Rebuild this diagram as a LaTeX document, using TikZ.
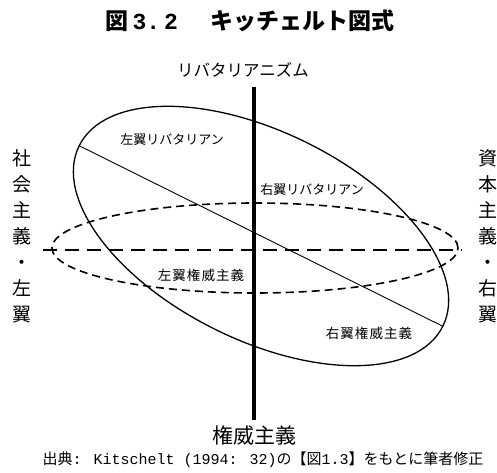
\documentclass[tikz,border=0pt]{standalone}
\usepackage{fontspec}
\setmainfont{Liberation Serif}
\newfontfamily\jp{Noto Sans CJK JP}
\newfontfamily\jpsp[LetterSpace=8]{Noto Sans CJK JP}
\newfontfamily\mono{Liberation Mono}
\usetikzlibrary{calc}
\tikzset{
  axisv/.style={line width=3.6pt},
  axish/.style={line width=2.6pt, dash pattern=on 14pt off 8pt},
  dashell/.style={line width=1.6pt, dash pattern=on 8pt off 5pt},
  solidell/.style={line width=1.3pt},
  diag/.style={line width=0.9pt},
  lab/.style={inner sep=0pt, font=\jp\fontsize{13}{13}\selectfont},
  labw/.style={inner sep=0pt, font=\jpsp\fontsize{13.5}{13.5}\selectfont},
  side/.style={inner sep=0pt, align=center, font=\jp\fontsize{19}{26}\selectfont},
}
\begin{document}
\begin{tikzpicture}[x=1pt,y=1pt]
\useasboundingbox (0,0) rectangle (497,472);
% title
\node[inner sep=0pt] (title) at (250,451) {\fontsize{23}{23}\selectfont{\jp\bfseries 図}\,{\mono\bfseries 3.\,2}\hspace{1.4em}{\jp\bfseries キッチェルト図式}};
% axis coordinates
\coordinate (vt) at (254,385);
\coordinate (vb) at (254,52);
\coordinate (hl) at (43,222);
\coordinate (hr) at (462,222);
\coordinate (dc) at (255,224);
\coordinate (sc) at (261,236);
\coordinate (dl) at ($(sc)+(153.6:203)$);
\coordinate (dr) at ($(sc)+(-26.4:203)$);
% ellipses
\draw[dashell] (dc) ellipse [x radius=203, y radius=45];
\draw[solidell] (sc) ellipse [x radius=203, y radius=104, rotate=-26.4];
\draw[diag] (dl) -- (dr);
% axes
\draw[axish] (hl) -- (hr);
\draw[axisv] (vt) -- (vb);
% axis labels
\node[inner sep=0pt, font=\jp\fontsize{16.5}{16.5}\selectfont] (lib) at (243,402) {リバタリアニズム};
\node[inner sep=0pt, font=\jp\fontsize{21}{21}\selectfont] (auth) at (254,37) {権威主義};
\node[side] (left) at (22,236) {社\\会\\主\\義\\・\\左\\翼};
\node[side] (right) at (488,236) {資\\本\\主\\義\\・\\右\\翼};
% inner labels
\node[lab] (ll) at (172,332) {左翼リバタリアン};
\node[lab] (rl) at (312,282) {右翼リバタリアン};
\node[labw] (la) at (201,197) {左翼権威主義};
\node[labw] (ra) at (369,139) {右翼権威主義};
% caption
\node[inner sep=0pt] (cap) at (263,12) {\fontsize{15}{15}\selectfont{\jp 出典}{\mono: Kitschelt (1994: 32)}{\jp の【図}{\mono 1.3}{\jp 】をもとに筆者修正}};
\end{tikzpicture}
\end{document}
